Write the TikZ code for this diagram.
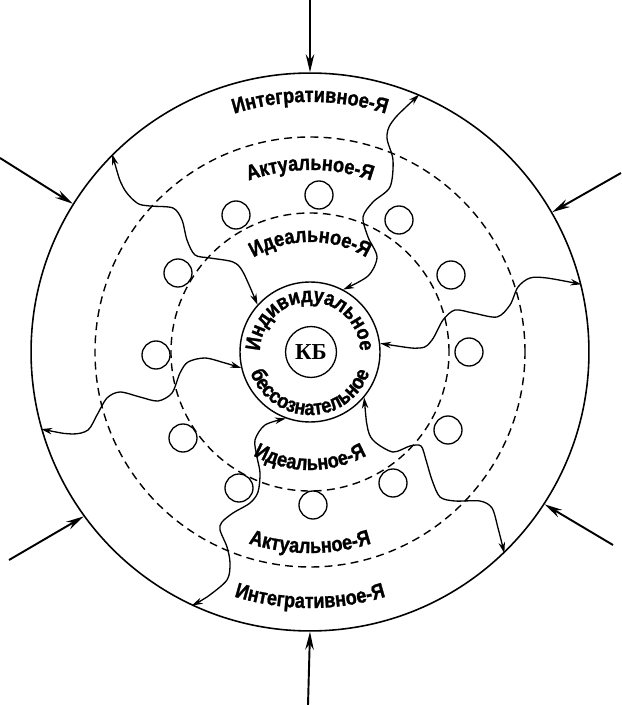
\documentclass[tikz,border=0pt]{standalone}
\usepackage{fontspec}
\setmainfont{Liberation Sans}
\newfontfamily\lblfont{Liberation Sans}[FakeStretch=0.86, BoldFeatures={FakeBold=1.2}]
\newfontfamily\kbfont{Liberation Serif}
\usetikzlibrary{arrows.meta,decorations.text}

\begin{document}
\begin{tikzpicture}[x=0.02cm, y=0.02cm,
    ring/.style={line width=0.8pt, dash pattern=on 4.5pt off 3pt},
    bead/.style={draw, line width=0.75pt},
    spoke/.style={line width=0.75pt, {Stealth[length=2.2mm,width=1.3mm]}-{Stealth[length=2.2mm,width=1.3mm]}},
    push/.style={line width=1.1pt, -{Stealth[length=3.6mm,width=1.7mm]}},
    ringlabel/.style={decorate, decoration={text along path, text align=center,
        text={|\lblfont\bfseries\fontsize{12}{14}\selectfont|#1}}},
    corelabel/.style={decorate, decoration={text along path, text align=center,
        text={|\lblfont\bfseries\fontsize{12}{14}\selectfont|#1}}}]
    \useasboundingbox (-310,-353) rectangle (311,352);

    % Circles
    \node[circle, draw, line width=0.9pt, minimum size=11.16cm] (outer) at (0,0) {};
    \draw[ring] (0,0) circle[radius=215];
    \draw[ring] (0,0) circle[radius=139];
    \node[circle, draw, line width=0.8pt, minimum size=2.8cm] (core) at (0,0) {};
    \node[circle, draw, line width=0.75pt, minimum size=1cm,
        font=\kbfont\bfseries\fontsize{13}{15}\selectfont] (kb) at (1,0) {КБ};

    % Small circles between the dashed rings
    \foreach \p in {(159,0),(141,77),(89,132),(9,157),(-74,137),(-132,79),
                    (-154,-3),(-127,-86),(-71,-136),(3,-153),(83,-131),(138,-78)}
        \draw[bead] \p circle[radius=14];

    % Labels along the rings
    \path[ringlabel=Интегративное-Я] (150:250) arc[start angle=150, end angle=30, radius=250];
    \path[ringlabel=Интегративное-Я] (210:256) arc[start angle=210, end angle=330, radius=256];
    \path[ringlabel=Актуальное-Я] (150:182) arc[start angle=150, end angle=30, radius=182];
    \path[ringlabel=Актуальное-Я] (210:201) arc[start angle=210, end angle=330, radius=201];
    \path[ringlabel=Идеальное-Я] (160:110) arc[start angle=160, end angle=20, radius=110];
    \path[ringlabel=Идеальное-Я] (200:118) arc[start angle=200, end angle=340, radius=118];
    \path[corelabel=Индивидуальное] (180:50) arc[start angle=180, end angle=0, radius=50];
    \path[corelabel=бессознательное] (180:63) arc[start angle=180, end angle=360, radius=63];

    % Wavy links between core and outer circle
    \draw[spoke] plot[smooth] coordinates {(outer.67) (82,230) (77,214) (83,192) (80,165)
        (63,150) (53,135) (58,115) (67,95) (58,76) (core.62)};
    \draw[spoke] plot[smooth] coordinates {(outer.135) (-187,165) (-173,149) (-160,146)
        (-137,144) (-128,132) (-123,112) (-115,97) (-100,94) (-77,90) (-67,80) (core.138)};
    \draw[spoke] plot[smooth] coordinates {(core.7) (110,4) (122,12) (133,32) (145,42)
        (163,39) (187,35) (200,47) (208,65) (220,74) (237,74) (outer.14)};
    \draw[spoke] plot[smooth] coordinates {(outer.196) (-238,-82) (-222,-78) (-213,-63)
        (-203,-46) (-190,-40) (-170,-45) (-152,-49) (-138,-41) (-130,-21) (-122,-10)
        (-105,-6) (-85,-11) (core.193)};
    \draw[spoke] plot[smooth] coordinates {(outer.245) (-103,-245) (-83,-228) (-80,-211)
        (-83,-195) (-90,-178) (-88,-170) (-77,-161) (-60,-151) (-52,-140) (-50,-121)
        (-53,-105) (-55,-88) (-45,-73) (core.250)};
    \draw[spoke] plot[smooth] coordinates {(core.320) (58,-78) (65,-90) (83,-100)
        (100,-94) (111,-94) (116,-108) (122,-128) (130,-145) (145,-149) (170,-149)
        (182,-156) (188,-176) (outer.314)};

    % Arrows from outside
    \coordinate (pN) at (0,353);
    \coordinate (pS) at (-2,-353);
    \coordinate (pNW) at (-310,194);
    \coordinate (pNE) at (311,179);
    \coordinate (pSW) at (-301,-208);
    \coordinate (pSE) at (303,-193);
    \draw[push] (pN) -- (outer.90);
    \draw[push] (pS) -- (outer.270);
    \draw[push] (pNW) -- (outer.148);
    \draw[push] (pNE) -- (outer.30);
    \draw[push] (pSW) -- (outer.216);
    \draw[push] (pSE) -- (outer.327);
\end{tikzpicture}
\end{document}
